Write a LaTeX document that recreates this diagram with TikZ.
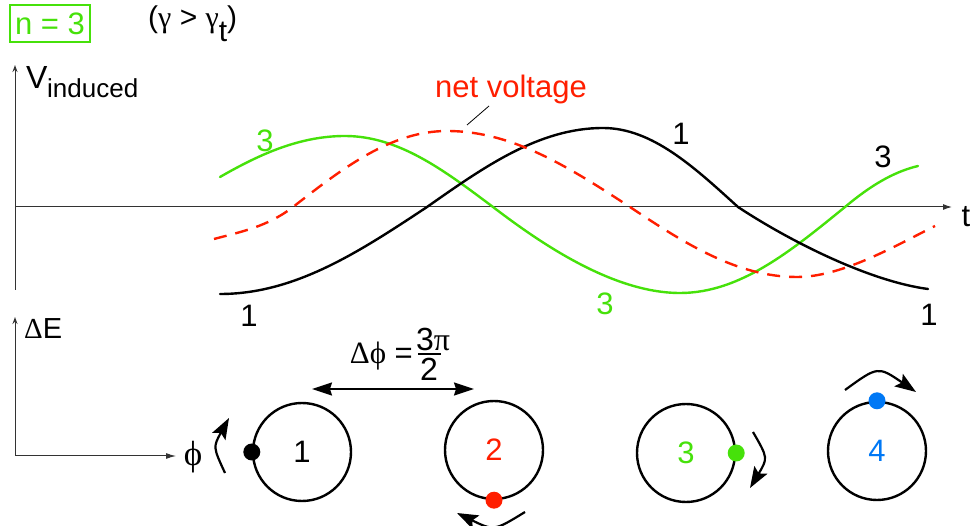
\documentclass[tikz,border=0pt]{standalone}
\usepackage{fontspec}
\setmainfont{Liberation Sans}
\newfontfamily\grk{Liberation Serif}
\usetikzlibrary{arrows.meta}
\definecolor{cgreen}{RGB}{70,225,10}
\definecolor{cred}{RGB}{255,30,0}
\definecolor{cblue}{RGB}{0,120,245}
\begin{document}
\begin{tikzpicture}[x=1pt,y=-1pt,
  lbl/.style={inner sep=0pt,font=\fontsize{31}{32}\selectfont},
  axisline/.style={line width=1pt,black!80},
  curve/.style={line width=2.4pt,line cap=round,line join=round},
  ring/.style={draw,line width=2.4pt,circle,minimum size=98pt,inner sep=0pt},
  spin/.style={line width=2.2pt,-{Stealth[length=21pt,width=15pt,inset=4pt]}},
  dot/.style={circle,inner sep=0pt,minimum size=17pt}]
\useasboundingbox (0,0) rectangle (970,526);

% header
\node[lbl,draw=cgreen,line width=2pt,text=cgreen,minimum width=80pt,minimum height=37pt] (nbox) at (50,24) {n = 3};
\node[lbl,anchor=west,font=\fontsize{30}{32}\selectfont] (cond) at (148,24) {({\grk γ} > {\grk γ}\raisebox{-0.45em}{t})};

% upper axes
\coordinate (vbot) at (15,290);
\coordinate (vtop) at (15,65);
\draw[axisline,-{Stealth[length=7pt,width=5pt,open]}] (vbot) -- (vtop);
\node[lbl,anchor=south west,font=\fontsize{32}{32}\selectfont] (V) at (26,89) {V};
\node[lbl,anchor=base west,font=\fontsize{26}{28}\selectfont] (ind) at (47,98) {induced};
\coordinate (hl) at (15,207);
\coordinate (hr) at (952,207);
\draw[axisline,-{Latex[length=9pt,width=6pt]}] (hl) -- (hr);
\node[lbl] (tl) at (966,217) {t};

% curves
\draw[curve,cgreen] (220,177) .. controls (260,154) and (300,136) .. (345,136)
  .. controls (399,136) and (445,171) .. (493,207)
  .. controls (539,242) and (612,293) .. (680,293)
  .. controls (740,293) and (791,251) .. (845,207)
  .. controls (870,186) and (893,172) .. (918,166);
\draw[curve,black] (220,294) .. controls (295,294) and (359,252) .. (427,207)
  .. controls (484,167) and (539,128) .. (603,128)
  .. controls (652,128) and (694,167) .. (738,207)
  .. controls (788,240) and (868,281) .. (928,289);
\draw[curve,cred,line cap=butt,dash pattern=on 13pt off 9pt] (214,239) .. controls (240,232) and (267,227) .. (293,207)
  .. controls (343,168) and (391,131) .. (447,131)
  .. controls (513,131) and (570,168) .. (630,207)
  .. controls (684,243) and (737,277) .. (797,277)
  .. controls (842,277) and (895,246) .. (935,226);

% curve labels
\node[lbl,text=cred] (nv) at (511,89) {net voltage};
\coordinate (nvl) at (467,125);
\coordinate (nvt) at (489,106);
\draw[line width=0.8pt] (nvt) -- (nvl);
\node[lbl,text=cgreen] (g3a) at (265,141) {3};
\node[lbl] (b1a) at (681,134) {1};
\node[lbl] (b3) at (883,157) {3};
\node[lbl] (b1b) at (249,316) {1};
\node[lbl,text=cgreen] (g3b) at (605,304) {3};
\node[lbl] (b1c) at (929,315) {1};

% lower axes
\coordinate (eo) at (15,456);
\coordinate (etop) at (15,317);
\coordinate (eright) at (176,456);
\draw[axisline,-{Stealth[length=7pt,width=5pt,open]}] (eo) -- (etop);
\draw[axisline,-{Latex[length=10pt,width=6pt]}] (eo) -- (eright);
\node[lbl,anchor=west,font=\fontsize{29}{30}\selectfont] (dE) at (24,329) {{\grk Δ}E};
\node[lbl,font=\fontsize{35}{35}\selectfont] (phi) at (193,457) {\grk ϕ};

% rings
\node[ring] (c1) at (302,452) {};
\node[ring] (c2) at (494,450) {};
\node[ring] (c3) at (686,453) {};
\node[ring] (c4) at (877,451) {};
\node[lbl] (n1) at (c1) {1};
\node[lbl,text=cred] (n2) at (c2) {2};
\node[lbl,text=cgreen] (n3) at (c3) {3};
\node[lbl,text=cblue] (n4) at (c4) {4};
\node[dot,fill=black] (d1) at (c1.west) {};
\node[dot,fill=cred] (d2) at (c2.south) {};
\node[dot,fill=cgreen] (d3) at (c3.east) {};
\node[dot,fill=cblue] (d4) at (c4.north) {};

% rotation arrows
\coordinate (a1s) at (225,473); \coordinate (a1e) at (229,418);
\draw[spin] (a1s) .. controls (213,447) .. (a1e);
\coordinate (a2s) at (525,512); \coordinate (a2e) at (457,513);
\draw[spin] (a2s) .. controls (494,531) .. (a2e);
\coordinate (a3s) at (753,432); \coordinate (a3e) at (750,488);
\draw[spin] (a3s) .. controls (768,458) .. (a3e);
\coordinate (a4s) at (845,390); \coordinate (a4e) at (916,392);
\draw[spin] (a4s) .. controls (878,366) .. (a4e);

% phase difference
\coordinate (pl) at (312,389);
\coordinate (pr) at (474,389);
\draw[line width=1.5pt,{Stealth[length=20pt,width=13pt,inset=2pt]}-{Stealth[length=20pt,width=13pt,inset=2pt]}] (pl) -- (pr);
\node[lbl,anchor=east,font=\fontsize{31}{32}\selectfont] (dphi) at (413,356) {{\grk Δϕ} =};
\node[lbl,anchor=west,font=\fontsize{32}{32}\selectfont] (num) at (416,339) {3{\grk π}};
\node[lbl,font=\fontsize{32}{32}\selectfont] (den) at (429,369) {2};
\draw[line width=1.2pt] (418,354) -- (441,354);
\end{tikzpicture}
\end{document}
